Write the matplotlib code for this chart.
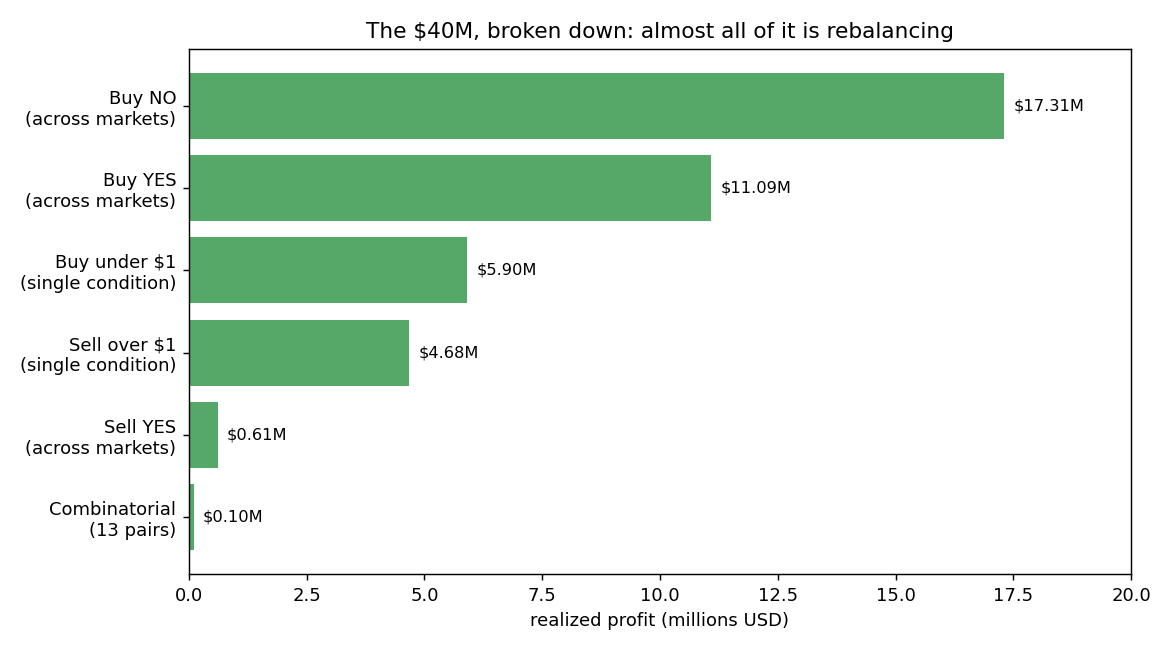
import matplotlib
matplotlib.use("Agg")
import matplotlib.pyplot as plt

categories = ["Buy NO\n(across markets)", "Buy YES\n(across markets)",
              "Buy under $1\n(single condition)", "Sell over $1\n(single condition)",
              "Sell YES\n(across markets)", "Combinatorial\n(13 pairs)"]
profits = [17.31, 11.09, 5.90, 4.68, 0.61, 0.10]

fig, ax = plt.subplots(figsize=(9, 5), dpi=130)
ypos = list(range(len(categories)))
ax.barh(ypos, profits, color="#55a868", height=0.8)
ax.set_yticks(ypos)
ax.set_yticklabels(categories)
ax.invert_yaxis()
for y, v in zip(ypos, profits):
    ax.text(v + 0.2, y, f"${v:.2f}M", va="center", ha="left", fontsize=9)
ax.set_xlim(0, 20)
ax.set_xlabel("realized profit (millions USD)")
ax.set_title("The $40M, broken down: almost all of it is rebalancing")
fig.subplots_adjust(left=0.1615, right=0.9667, top=0.9246, bottom=0.117)
fig.savefig("out.png")
